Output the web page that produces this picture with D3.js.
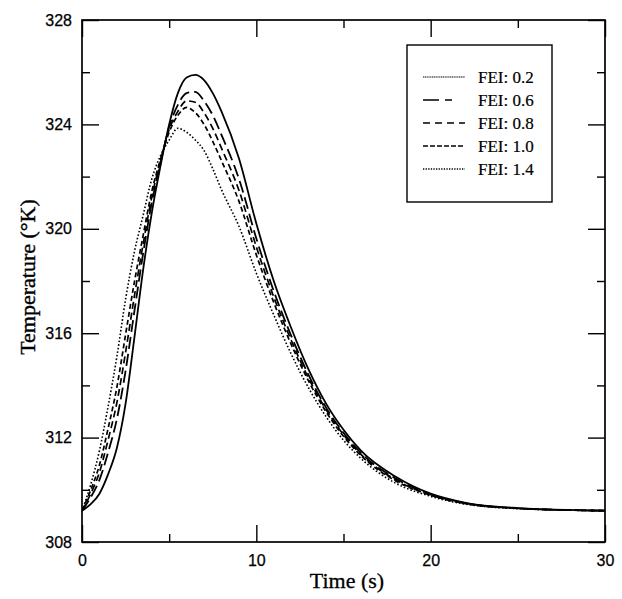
<!DOCTYPE html>
<html>
<head>
<meta charset="utf-8">
<script src="https://cdn.jsdelivr.net/npm/d3@7"></script>
<style>
  html, body { margin: 0; padding: 0; background: #fff; }
  svg { display: block; }
</style>
</head>
<body>
<svg id="chart" width="622" height="599"></svg>
<script>
// ---- data ----
const times = [0,0.5,1,1.5,2,2.5,3,3.5,4,4.5,5,5.5,6,6.5,7,7.5,8,9,10,11,12,13,14,15,16,18,20,22,25,30];
const fei02 = [309.2,309.45,309.85,310.6,311.6,313.3,315.8,318.4,320.6,322.4,324.0,325.2,325.8,325.9,325.7,325.2,324.5,322.7,320.2,318.0,316.2,314.6,313.3,312.3,311.5,310.5,309.85,309.5,309.3,309.2];
const fei06 = [309.2,309.71,310.38,311.44,312.71,314.56,316.82,319.03,320.99,322.52,323.9,324.75,325.2,325.25,324.9,324.35,323.6,321.92,319.63,317.61,315.9,314.39,313.15,312.18,311.41,310.43,309.82,309.49,309.29,309.2];
const fei08 = [309.2,309.85,310.67,311.92,313.34,315.27,317.4,319.39,321.21,322.59,323.8,324.5,324.9,324.85,324.45,323.85,323.09,321.48,319.31,317.39,315.73,314.27,313.07,312.11,311.36,310.38,309.8,309.48,309.29,309.2];
const fei10 = [309.2,309.99,310.95,312.36,313.93,315.95,317.94,319.72,321.42,322.65,323.7,324.35,324.65,324.45,324.0,323.35,322.61,321.06,319.0,317.18,315.57,314.16,312.99,312.05,311.31,310.34,309.79,309.47,309.29,309.2];
const fei14 = [309.2,310.2,311.5,313.2,315.1,317.3,319.1,320.5,321.9,322.8,323.4,323.85,323.7,323.4,323.0,322.3,321.5,320.1,318.3,316.7,315.2,313.9,312.8,311.9,311.2,310.25,309.75,309.45,309.28,309.2];
const seriesNames = ["FEI: 0.2","FEI: 0.6","FEI: 0.8","FEI: 1.0","FEI: 1.4"];
const seriesValues = [fei02, fei06, fei08, fei10, fei14];
const xMajorTicks = [0,10,20,30];
const xMinorTicks = [5,15,25];
const yMajorTicks = [308,312,316,320,324,328];
const yMinorTicks = [310,314,318,322,326];

// ---- styles ----
const dashes = [null, "12,5", "7,4", "5,3", "1.6,2"];
const widths = [1.8, 1.8, 1.7, 1.7, 1.6];

const svg = d3.select("#chart");
const L = 82, R = 605, T = 20, B = 542;
const x = d3.scaleLinear().domain([0,30]).range([L,R]);
const y = d3.scaleLinear().domain([308,328]).range([B,T]);

const line = d3.line().x(d => x(d[0])).y(d => y(d[1])).curve(d3.curveMonotoneX);

svg.append("clipPath").attr("id","clip").append("rect")
  .attr("x",L).attr("y",T).attr("width",R-L).attr("height",B-T);

const gLines = svg.append("g").attr("clip-path","url(#clip)");
seriesValues.forEach((vals,i) => {
  gLines.append("path")
    .datum(times.map((t,k) => [t, vals[k]]))
    .attr("d", line)
    .attr("fill","none")
    .attr("stroke","#000")
    .attr("stroke-width", widths[i])
    .attr("stroke-dasharray", dashes[i]);
});

// ---- axes (ticks inward, mirrored) ----
const tickFont = "'Liberation Sans', Arial, sans-serif";
function styleAxis(g){
  g.select(".domain").remove();
  g.selectAll("line").attr("stroke","#000").attr("stroke-width",1.4);
}
svg.append("g").attr("transform",`translate(0,${B})`)
  .call(d3.axisBottom(x).tickValues(xMajorTicks).tickSize(-17).tickPadding(10).tickFormat(d3.format("d")))
  .call(styleAxis)
  .call(g => g.selectAll("text").attr("font-family",tickFont).attr("font-size",16).attr("fill","#000")
    .attr("stroke","#000").attr("stroke-width",0.25).attr("dy","0.9em"));
svg.append("g").attr("transform",`translate(0,${B})`)
  .call(d3.axisBottom(x).tickValues(xMinorTicks).tickSize(-8).tickFormat(""))
  .call(styleAxis);
svg.append("g").attr("transform",`translate(0,${T})`)
  .call(d3.axisTop(x).tickValues(xMajorTicks).tickSize(-17).tickFormat(""))
  .call(styleAxis);
svg.append("g").attr("transform",`translate(0,${T})`)
  .call(d3.axisTop(x).tickValues(xMinorTicks).tickSize(-8).tickFormat(""))
  .call(styleAxis);
svg.append("g").attr("transform",`translate(${L},0)`)
  .call(d3.axisLeft(y).tickValues(yMajorTicks).tickSize(-17).tickPadding(10).tickFormat(d3.format("d")))
  .call(styleAxis)
  .call(g => g.selectAll("text").attr("font-family",tickFont).attr("font-size",16).attr("fill","#000")
    .attr("stroke","#000").attr("stroke-width",0.25));
svg.append("g").attr("transform",`translate(${L},0)`)
  .call(d3.axisLeft(y).tickValues(yMinorTicks).tickSize(-8).tickFormat(""))
  .call(styleAxis);
svg.append("g").attr("transform",`translate(${R},0)`)
  .call(d3.axisRight(y).tickValues(yMajorTicks).tickSize(-17).tickFormat(""))
  .call(styleAxis);
svg.append("g").attr("transform",`translate(${R},0)`)
  .call(d3.axisRight(y).tickValues(yMinorTicks).tickSize(-8).tickFormat(""))
  .call(styleAxis);

svg.append("rect").attr("x",L).attr("y",T).attr("width",R-L).attr("height",B-T)
  .attr("fill","none").attr("stroke","#000").attr("stroke-width",1.7);

// ---- axis titles ----
const serif = "'Liberation Serif', 'Times New Roman', serif";
svg.append("text").attr("x",347).attr("y",588)
  .attr("text-anchor","middle").attr("font-family",serif).attr("font-size",22)
  .attr("stroke","#000").attr("stroke-width",0.3)
  .text("Time (s)");
svg.append("text").attr("transform",`translate(35,${(T+B)/2 - 4}) rotate(-90)`)
  .attr("text-anchor","middle").attr("font-family",serif).attr("font-size",22)
  .attr("stroke","#000").attr("stroke-width",0.4)
  .text("Temperature (°K)");

// ---- legend ----
const lg = svg.append("g");
lg.append("rect").attr("x",407).attr("y",45).attr("width",145).attr("height",157)
  .attr("fill","#fff").attr("stroke","#000").attr("stroke-width",1.4);
const legendDashes = ["1.2,0.6", "16,6,7,50", "7,5", "5,2", "1.3,1.3"];
const legendWidths = [1.1, 1.6, 1.6, 1.6, 1.3];
seriesNames.forEach((name,i) => {
  const yy = 77 + i*23;
  lg.append("line").attr("x1",423).attr("x2",465).attr("y1",yy).attr("y2",yy)
    .attr("stroke","#000").attr("stroke-width",legendWidths[i])
    .attr("stroke-dasharray",legendDashes[i]);
  lg.append("text").attr("x",478).attr("y",yy+5.5)
    .attr("font-family",serif).attr("font-size",17)
    .attr("stroke","#000").attr("stroke-width",0.2)
    .text(name);
});
</script>
</body>
</html>
